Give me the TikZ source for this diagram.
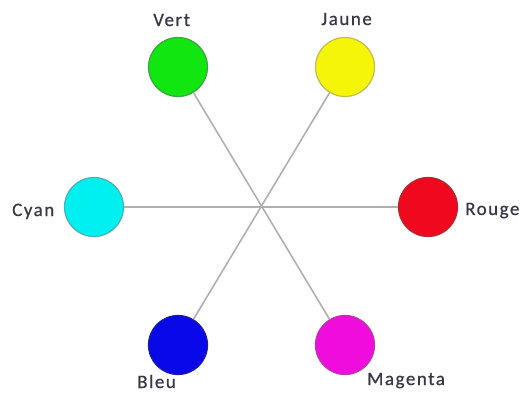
\documentclass[tikz,border=0pt]{standalone}
\usepackage{fontspec}
\setmainfont[LetterSpace=8,FakeBold=0.6]{Carlito}
\definecolor{txt}{HTML}{383848}
\definecolor{linec}{HTML}{B0B0B0}
\begin{document}
\begin{tikzpicture}[x=1pt,y=-1pt,
  dot/.style={circle,minimum size=59pt,inner sep=0pt,line width=1.2pt},
  lbl/.style={anchor=base west,inner sep=0pt,text=txt,font=\fontsize{19}{21}\selectfont},
  spoke/.style={draw=linec,line width=1.6pt}]
\useasboundingbox (0,0) rectangle (523,392);
\clip (0,0) rectangle (523,392);
\node[dot,fill={rgb,255:red,17;green,230;blue,17},draw={rgb,255:red,60;green,165;blue,60}] (vert) at (178,67) {};
\node[dot,fill={rgb,255:red,245;green,245;blue,10},draw={rgb,255:red,200;green,185;blue,80}] (jaune) at (345,67) {};
\node[dot,fill={rgb,255:red,0;green,240;blue,240},draw={rgb,255:red,70;green,180;blue,180}] (cyan) at (94,207) {};
\node[dot,fill={rgb,255:red,240;green,8;blue,30},draw={rgb,255:red,175;green,45;blue,50}] (rouge) at (428,207) {};
\node[dot,fill={rgb,255:red,8;green,8;blue,232},draw={rgb,255:red,30;green,30;blue,160}] (bleu) at (178,345) {};
\node[dot,fill={rgb,255:red,240;green,12;blue,220},draw={rgb,255:red,180;green,60;blue,165}] (magenta) at (345,345) {};
\draw[spoke] (vert) -- (magenta);
\draw[spoke] (jaune) -- (bleu);
\draw[spoke] (cyan) -- (rouge);
\node[lbl] (tvert) at (153,26) {Vert};
\node[lbl] (tjaune) at (321,25) {Jaune};
\node[lbl] (tcyan) at (12,216) {Cyan};
\node[lbl] (trouge) at (465,215) {Rouge};
\node[lbl] (tbleu) at (137,388) {Bleu};
\node[lbl] (tmagenta) at (367,385) {Magenta};
\end{tikzpicture}
\end{document}
